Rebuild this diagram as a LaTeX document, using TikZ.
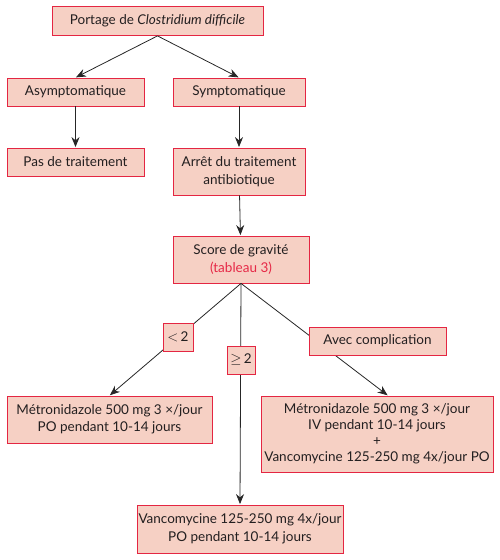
\documentclass[tikz,border=0pt]{standalone}
\usepackage{fontspec}
\setmainfont{Lato}
\usetikzlibrary{arrows.meta}
\definecolor{boxfill}{RGB}{246,208,196}
\definecolor{boxline}{RGB}{228,38,66}
\definecolor{txt}{RGB}{35,31,32}
\definecolor{refred}{RGB}{230,40,70}

\begin{document}
\begin{tikzpicture}[x=1pt,y=-1pt,shorten >=0.5pt,->,>={Stealth[length=10pt,width=8pt]},draw=black!85,line width=0.8pt]
    \tikzstyle{box}=[rectangle,draw=boxline,fill=boxfill,line width=0.8pt,text=txt,align=center,inner sep=0pt,font=\fontsize{13.5}{17.5}\selectfont]
    \tikzstyle{tag}=[box,minimum height=28pt]

    \useasboundingbox (0,0) rectangle (500,560);

    \node[box,minimum width=211pt,minimum height=29pt] (portage) at (157.5,21) {Portage de \textit{Clostridium difficile}};
    \node[box,minimum width=137pt,minimum height=28pt] (asym) at (75.5,92) {Asymptomatique};
    \node[box,minimum width=132pt,minimum height=28pt] (sym) at (239,92) {Symptomatique};
    \node[box,minimum width=137pt,minimum height=28pt] (pas) at (75.5,162) {Pas de traitement};
    \node[box,minimum width=132pt,minimum height=47pt] (arret) at (239,171.5) {Arrêt du traitement\\antibiotique};
    \node[box,minimum width=136pt,minimum height=47pt] (score) at (241,259.5) {Score de gravité\\\textcolor{refred}{(tableau 3)}};
    \node[box,minimum width=205pt,minimum height=47pt] (metro) at (109.5,419.5) {Métronidazole 500 mg 3 ×/jour\\PO pendant 10-14 jours};
    \node[box,minimum width=232pt,minimum height=76pt,font=\fontsize{13.5}{16}\selectfont] (combo) at (377,434) {Métronidazole 500 mg 3 ×/jour\\IV pendant 10-14 jours\\+\\Vancomycine 125-250 mg 4x/jour PO};
    \node[box,minimum width=206pt,minimum height=48pt] (vanco) at (240,529) {Vancomycine 125-250 mg 4x/jour\\PO pendant 10-14 jours};

    \draw (portage.south) -- (asym.north);
    \draw (portage.south) -- (sym.north);
    \draw (asym) -- (pas);
    \draw (sym) -- (arret);
    \draw (arret) -- (score);
    \draw (score.south) -- (metro.north);
    \draw (score.south) -- (vanco.north);
    \draw (score.south) -- ([xshift=11pt]combo.north);

    \node[tag,minimum width=30pt] (lt) at (178,337) {$<$\,2};
    \node[tag,minimum width=28pt] (ge) at (241,360) {$\geq$\,2};
    \node[tag,minimum width=137pt] (avec) at (377.5,341) {Avec complication};
\end{tikzpicture}
\end{document}
